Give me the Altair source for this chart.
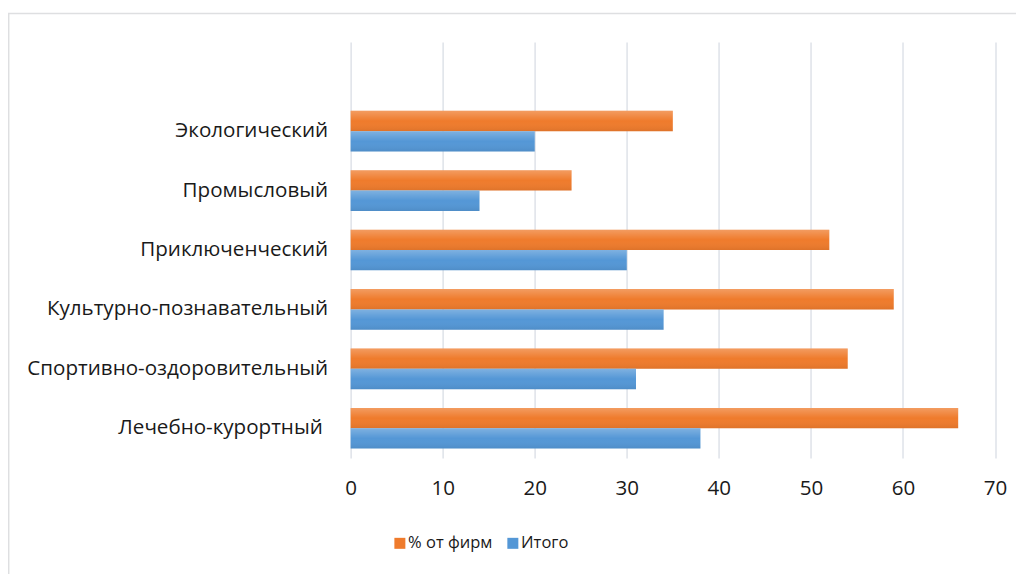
import altair as alt
import pandas as pd

categories = ["Экологический", "Промысловый", "Приключенческий",
              "Культурно-познавательный", "Спортивно-оздоровительный",
              "Лечебно-курортный\u00a0\u200b"]
series_names = ["% от фирм", "Итого"]
pct_firms = [35, 24, 52, 59, 54, 66]
itogo = [20, 14, 30, 34, 31, 38]
x_ticks = [0, 10, 20, 30, 40, 50, 60, 70]
colors = ["#EF7B2C", "#5497D6"]

rows = []
for c, a, b in zip(categories, pct_firms, itogo):
    rows.append({"cat": c, "series": series_names[0], "value": a})
    rows.append({"cat": c, "series": series_names[1], "value": b})
df = pd.DataFrame(rows)

FONT = "Open Sans"
TXT = "#1A1A1A"
W, H = 644.5, 416

y_enc = alt.Y("cat:N", scale=alt.Scale(domain=[""] + categories,
                                       paddingInner=0.316, paddingOuter=0.158),
              axis=alt.Axis(title=None, ticks=False, domain=False, grid=False,
                            labelPadding=23, labelFontSize=20.6, labelFont=FONT,
                            labelColor=TXT, labelLimit=400))
yoff = alt.YOffset("series:N", sort=series_names,
                   scale=alt.Scale(domain=series_names, paddingInner=0, paddingOuter=0))
x_enc = alt.X("value:Q", scale=alt.Scale(domain=[0, 70], nice=False, zero=True),
              axis=alt.Axis(title=None, values=x_ticks, ticks=False, tickSize=0,
                            domain=False, grid=True, gridColor="#DCE0E7",
                            gridWidth=1.4, labelPadding=21, labelFontSize=20.6,
                            labelFont=FONT, labelColor=TXT, labelFlush=False))

base = alt.Chart(df).encode(y=y_enc, yOffset=yoff, x=x_enc)

bars = base.mark_bar().encode(
    color=alt.Color("series:N", sort=series_names,
                    scale=alt.Scale(domain=series_names, range=colors),
                    legend=alt.Legend(title=None, orient="none", legendX=41,
                                      legendY=493, direction="horizontal",
                                      symbolType="square", symbolSize=121,
                                      symbolStrokeWidth=0, labelFontSize=16.5,
                                      labelFont=FONT, labelColor=TXT,
                                      labelOffset=0, columnPadding=12))
)

shade = base.mark_bar(
    fill=alt.Gradient(gradient="linear", x1=0, x2=0, y1=0, y2=1,
                      stops=[alt.GradientStop(color="rgba(255,255,255,0.25)", offset=0),
                             alt.GradientStop(color="rgba(255,255,255,0)", offset=0.5),
                             alt.GradientStop(color="rgba(0,0,0,0.07)", offset=1)])
)

frame = alt.Chart(alt.Data(values=[{"a": 1}])).mark_rect(
    filled=False, stroke="#DEDFE1", strokeWidth=1.5
).encode(x=alt.value(-342), x2=alt.value(W + 60), y=alt.value(-28.5), y2=alt.value(H + 140))

chart = alt.layer(frame, bars, shade).properties(
    width=W, height=H,
    autosize=alt.AutoSizeParams(type="none"),
    padding={"left": 342.7, "top": 34, "right": 21, "bottom": 120},
    background="white",
).configure_view(stroke=None)

chart.save("out.html", embed_options={"renderer": "svg", "actions": False})
